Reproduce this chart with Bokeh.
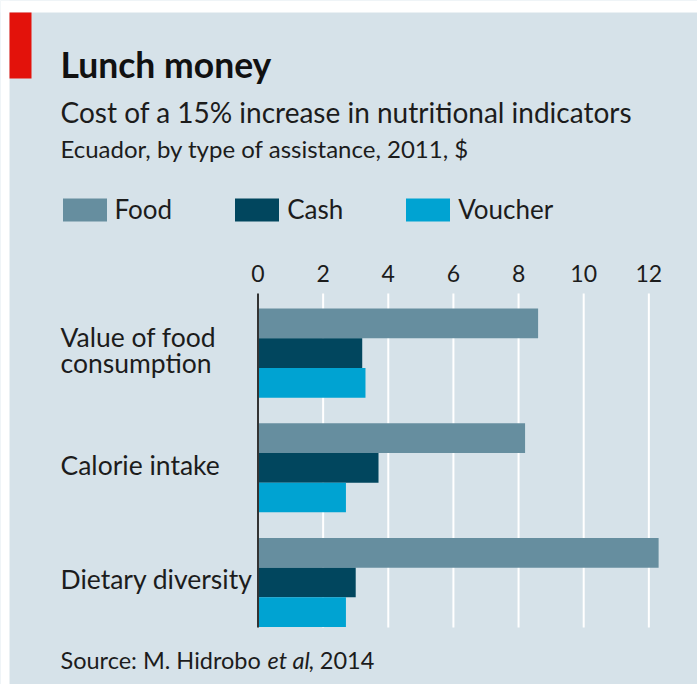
import numpy as np
from bokeh.plotting import figure
from bokeh.models import (Range1d, FixedTicker, Label, BoxAnnotation,
                          Legend, LegendItem, LinearAxis)
from bokeh.embed import file_html
from bokeh.resources import INLINE

# ---- data ----
categories = ["Value of food\nconsumption", "Calorie intake", "Dietary diversity"]
series = ["Food", "Cash", "Voucher"]
food = [8.6, 8.2, 12.3]
cash = [3.2, 3.7, 3.0]
voucher = [3.3, 2.7, 2.7]
ticks = [0, 2, 4, 6, 8, 10, 12]
title = "Lunch money"
subtitle = "Cost of a 15% increase in nutritional indicators"
subtitle2 = "Ecuador, by type of assistance, 2011, $"
source_parts = ["Source: M. Hidrobo", "et al", ", 2014"]

# ---- style / layout ----
BG = "#d6e2e9"
COLORS = ["#668e9f", "#01465e", "#00a3d2"]
TXT = "#1c1c1c"
FONT = "Lato"

W, H = 697, 684
X0 = 257.5        # canvas px of value 0
PX_X = 32.57      # px per unit on value axis
Y0 = 352.65       # canvas px of first category centre
PX_Y = 114.67     # px per category
PLOT_TOP, PLOT_BOT = 293, 627   # vertical extent of the chart area (canvas px)

def dy(px):
    return (px - Y0) / PX_Y

p = figure(width=W, height=H, output_backend="svg", toolbar_location=None,
           x_range=Range1d(-X0 / PX_X, (W - X0) / PX_X),
           y_range=Range1d(dy(H), dy(0)),
           x_axis_location=None, y_axis_location=None, min_border=0,
           background_fill_color=BG, border_fill_color=BG,
           outline_line_color=None)
p.grid.visible = False

top_y, bot_y = dy(PLOT_TOP), dy(PLOT_BOT)

# white gridlines
grid_x = np.array(ticks[1:], dtype=float)
p.segment(x0=grid_x, x1=grid_x, y0=top_y, y1=bot_y, line_color="white",
          line_width=2)

# value axis (on top)
ax = LinearAxis(fixed_location=top_y, ticker=FixedTicker(ticks=ticks))
ax.axis_line_color = None
ax.major_tick_line_color = None
ax.minor_tick_line_color = None
ax.major_label_text_font = FONT
ax.major_label_text_font_size = "23px"
ax.major_label_text_color = TXT
ax.major_label_standoff = 6
p.add_layout(ax, "above")

# bars
bar_h = 29.7 / PX_Y
ypos = np.arange(len(categories), dtype=float)
renderers = []
for k, (name, vals) in enumerate(zip(series, [food, cash, voucher])):
    r = p.hbar(y=ypos + (k - 1) * bar_h, left=0, right=vals, height=bar_h,
               fill_color=COLORS[k], line_color=None)
    renderers.append(r)

# zero line
p.segment(x0=[0], x1=[0], y0=top_y, y1=bot_y, line_color="#333333",
          line_width=2)

# legend (area swatches are drawn inset by 10% of the glyph box)
legend = Legend(items=[LegendItem(label=s, renderers=[r]) for s, r in zip(series, renderers)],
                orientation="horizontal", location=(56.5, H - 226),
                glyph_width=55, glyph_height=29, label_standoff=3, spacing=57,
                padding=0, margin=0, background_fill_alpha=0,
                border_line_color=None, label_text_font=FONT,
                label_text_font_size="26px", label_text_color=TXT,
                label_height=34, label_text_baseline="middle")
p.add_layout(legend)

def sy(y):
    return H - y

def box(l, r, t, b, color):
    p.add_layout(BoxAnnotation(left=l, right=r, top=sy(t), bottom=sy(b),
                               left_units="screen", right_units="screen",
                               top_units="screen", bottom_units="screen",
                               fill_color=color, fill_alpha=1, line_color=None))

# white page edge and red tab
box(0, W, 0, 12, "white")
box(0, 9, 0, H, "white")
box(9, 31, 12, 78, "#e3120b")

def add_text(txt, x, y, size, style="normal", color=TXT):
    p.add_layout(Label(x=x, y=sy(y), x_units="screen", y_units="screen",
                       text=txt, text_font=FONT, text_font_size=size,
                       text_font_style=style, text_color=color,
                       text_baseline="middle", text_align="left"))

add_text(title, 60, 63.5, "35.5px", "bold", "#111111")
add_text(subtitle, 60, 111.5, "28px")
add_text(subtitle2, 60, 147.7, "24px")

# source line
add_text(source_parts[0], 60, 659.5, "23.5px")
add_text(source_parts[1], 267, 659.5, "23.5px", "italic")
add_text(source_parts[2], 308, 659.5, "23.5px")

# category labels
for i, cat in enumerate(categories):
    lines = cat.split("\n")
    n = len(lines)
    for j, line in enumerate(lines):
        p.add_layout(Label(x=60, y=ypos[i], x_units="screen", y_units="data",
                           y_offset=3 - (j - (n - 1) / 2) * 26,
                           text=line, text_font=FONT, text_font_size="26.5px",
                           text_color=TXT, text_baseline="middle",
                           text_align="left"))

open("out.html", "w").write(file_html(p, INLINE))
